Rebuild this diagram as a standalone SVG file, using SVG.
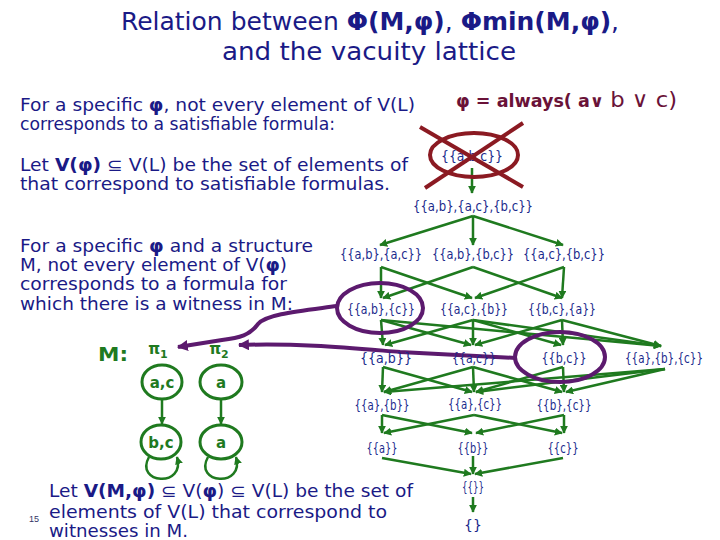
<svg xmlns="http://www.w3.org/2000/svg" width="720" height="540" viewBox="0 0 720 540">
<defs>
<style>
.t{font-family:"DejaVu Sans","Liberation Sans",sans-serif;fill:#1a1a86;}
.title{font-size:25px;}
.body{font-size:17px;}
.lab{font-family:"DejaVu Sans","Liberation Sans",sans-serif;font-size:14px;fill:#1a2a8c;text-anchor:middle;}
.phi{font-family:"DejaVu Sans","Liberation Sans",sans-serif;fill:#6a1238;font-size:17px;}
.ge{stroke:#1f7a1f;stroke-width:2.5;fill:none;marker-end:url(#ag);}
.st{stroke:#1f7a1f;stroke-width:3;fill:none;}
.stx{font-family:"DejaVu Sans","Liberation Sans",sans-serif;font-size:15px;font-weight:bold;fill:#1f7a1f;text-anchor:middle;}
.pu{stroke:#5c1a6e;stroke-width:4;fill:none;}
.x{stroke:#8b1a22;stroke-width:4;fill:none;}
</style>
<marker id="ag" viewBox="0 0 10 10" refX="9" refY="5" markerWidth="8" markerHeight="8" markerUnits="userSpaceOnUse" orient="auto"><path d="M0,0 L10,5 L0,10 z" fill="#1f7a1f"/></marker>
<marker id="ap" viewBox="0 0 10 10" refX="9" refY="5" markerWidth="11" markerHeight="11" markerUnits="userSpaceOnUse" orient="auto"><path d="M0,0 L10,5 L0,10 z" fill="#5c1a6e"/></marker>
</defs>
<rect width="720" height="540" fill="#ffffff"/>

<g id="title">
<text class="t title" x="370" y="30" text-anchor="middle" font-size="24">Relation between <tspan font-weight="bold">Φ(M,φ)</tspan>, <tspan font-weight="bold">Φmin(M,φ)</tspan>,</text>
<text class="t title" x="369" y="60" text-anchor="middle" textLength="294" lengthAdjust="spacingAndGlyphs">and the vacuity lattice</text>
</g>

<g id="text-left">
<text class="t body" x="20" y="111" textLength="395" lengthAdjust="spacingAndGlyphs">For a specific <tspan font-weight="bold">φ</tspan>, not every element of V(L)</text>
<text class="t body" x="20" y="130" textLength="315" lengthAdjust="spacingAndGlyphs">corresponds to a satisfiable formula:</text>
<text class="t body" x="20" y="171" textLength="388" lengthAdjust="spacingAndGlyphs">Let <tspan font-weight="bold">V(φ)</tspan> ⊆ V(L) be the set of elements of</text>
<text class="t body" x="20" y="190" textLength="370" lengthAdjust="spacingAndGlyphs">that correspond to satisfiable formulas.</text>
<text class="t body" x="20" y="252" textLength="293" lengthAdjust="spacingAndGlyphs">For a specific <tspan font-weight="bold">φ</tspan> and a structure</text>
<text class="t body" x="20" y="271" textLength="267" lengthAdjust="spacingAndGlyphs">M, not every element of V(<tspan font-weight="bold">φ</tspan>)</text>
<text class="t body" x="20" y="290" textLength="267" lengthAdjust="spacingAndGlyphs">corresponds to a formula for</text>
<text class="t body" x="20" y="310" textLength="273" lengthAdjust="spacingAndGlyphs">which there is a witness in M:</text>
<text class="t body" x="49" y="497" textLength="364" lengthAdjust="spacingAndGlyphs">Let <tspan font-weight="bold">V(M,φ)</tspan> ⊆ V(<tspan font-weight="bold">φ</tspan>) ⊆ V(L) be the set of</text>
<text class="t body" x="49" y="518" textLength="338" lengthAdjust="spacingAndGlyphs">elements of V(L) that correspond to</text>
<text class="t body" x="49" y="537" textLength="139" lengthAdjust="spacingAndGlyphs">witnesses in M.</text>
<text x="29" y="522" font-family="Liberation Sans, sans-serif" font-size="9" fill="#333366">15</text>
</g>

<g id="formula">
<text class="phi" x="456" y="107" textLength="221" lengthAdjust="spacingAndGlyphs"><tspan font-weight="bold">φ = always( a∨ </tspan><tspan font-size="22">b ∨ c)</tspan></text>
</g>

<g id="connectors">
<line class="ge" x1="472" y1="168" x2="472" y2="193"/>
<line class="ge" x1="473" y1="216" x2="380" y2="245"/>
<line class="ge" x1="473" y1="216" x2="473" y2="245"/>
<line class="ge" x1="473" y1="216" x2="563" y2="245"/>
<line class="ge" x1="381" y1="267" x2="381" y2="298"/>
<line class="ge" x1="381" y1="267" x2="472" y2="298"/>
<line class="ge" x1="473" y1="267" x2="383" y2="298"/>
<line class="ge" x1="473" y1="267" x2="562" y2="298"/>
<line class="ge" x1="564" y1="267" x2="562" y2="298"/>
<line class="ge" x1="564" y1="267" x2="475" y2="298"/>
<line class="ge" x1="381" y1="320" x2="383" y2="345"/>
<line class="ge" x1="381" y1="320" x2="471" y2="345"/>
<line class="ge" x1="381" y1="320" x2="661" y2="346"/>
<line class="ge" x1="473" y1="320" x2="385" y2="345"/>
<line class="ge" x1="473" y1="320" x2="473" y2="345"/>
<line class="ge" x1="473" y1="320" x2="561" y2="345"/>
<line class="ge" x1="473" y1="320" x2="661" y2="346"/>
<line class="ge" x1="562" y1="320" x2="475" y2="345"/>
<line class="ge" x1="562" y1="320" x2="563" y2="345"/>
<line class="ge" x1="562" y1="320" x2="661" y2="346"/>
<line class="ge" x1="383" y1="367" x2="382" y2="392"/>
<line class="ge" x1="383" y1="367" x2="472" y2="392"/>
<line class="ge" x1="473" y1="367" x2="384" y2="392"/>
<line class="ge" x1="473" y1="367" x2="474" y2="392"/>
<line class="ge" x1="473" y1="367" x2="562" y2="392"/>
<line class="ge" x1="563" y1="367" x2="476" y2="392"/>
<line class="ge" x1="563" y1="367" x2="564" y2="392"/>
<line class="ge" x1="665" y1="369" x2="384" y2="392"/>
<line class="ge" x1="665" y1="369" x2="476" y2="392"/>
<line class="ge" x1="665" y1="369" x2="566" y2="392"/>
<line class="ge" x1="382" y1="415" x2="382" y2="433"/>
<line class="ge" x1="382" y1="415" x2="472" y2="433"/>
<line class="ge" x1="474" y1="415" x2="384" y2="433"/>
<line class="ge" x1="474" y1="415" x2="562" y2="433"/>
<line class="ge" x1="564" y1="415" x2="564" y2="433"/>
<line class="ge" x1="564" y1="415" x2="476" y2="433"/>
<line class="ge" x1="382" y1="458" x2="471" y2="474"/>
<line class="ge" x1="473" y1="456" x2="473" y2="474"/>
<line class="ge" x1="563" y1="458" x2="475" y2="474"/>
<line class="ge" x1="473" y1="497" x2="473" y2="512"/>
<line class="ge" x1="162" y1="400" x2="162" y2="424"/>
<line class="ge" x1="221" y1="400" x2="221" y2="424"/>
<path class="ge" d="M149,457 C134,484 186,488 177,457"/>
<path class="ge" d="M208,457 C193,484 245,488 236,457"/>
<path class="pu" marker-end="url(#ap)" d="M337,306 C300,311 266,314 258,324 C250,335 240,338 222,340 L178,347"/>
<path class="pu" marker-end="url(#ap)" d="M516,358 L400,352 C350,348 300,343 239,345"/>
</g>

<g id="n-abc">
<ellipse class="x" cx="474" cy="155" rx="44" ry="22"/>
<text class="lab" x="472" y="161" textLength="62" lengthAdjust="spacingAndGlyphs">{{a,b,c}}</text>
<line class="x" x1="420" y1="127" x2="523" y2="187"/>
<line class="x" x1="523" y1="123" x2="425" y2="188"/>
</g>
<g id="n-ab-ac-bc"><text class="lab" x="473" y="211" textLength="120" lengthAdjust="spacingAndGlyphs">{{a,b},{a,c},{b,c}}</text></g>
<g id="n-ab-ac"><text class="lab" x="381" y="259" textLength="82" lengthAdjust="spacingAndGlyphs">{{a,b},{a,c}}</text></g>
<g id="n-ab-bc"><text class="lab" x="473" y="259" textLength="82" lengthAdjust="spacingAndGlyphs">{{a,b},{b,c}}</text></g>
<g id="n-ac-bc"><text class="lab" x="564" y="259" textLength="82" lengthAdjust="spacingAndGlyphs">{{a,c},{b,c}}</text></g>
<g id="n-ab-c">
<ellipse class="pu" cx="380" cy="308" rx="43" ry="25"/>
<text class="lab" x="381" y="314" textLength="68" lengthAdjust="spacingAndGlyphs">{{a,b},{c}}</text>
</g>
<g id="n-ac-b"><text class="lab" x="474" y="314" textLength="68" lengthAdjust="spacingAndGlyphs">{{a,c},{b}}</text></g>
<g id="n-bc-a"><text class="lab" x="562" y="314" textLength="68" lengthAdjust="spacingAndGlyphs">{{b,c},{a}}</text></g>
<g id="n-ab"><text class="lab" x="386" y="363" textLength="52" lengthAdjust="spacingAndGlyphs">{{a,b}}</text></g>
<g id="n-ac"><text class="lab" x="474" y="363" textLength="44" lengthAdjust="spacingAndGlyphs">{{a,c}}</text></g>
<g id="n-bc">
<ellipse class="pu" cx="560" cy="357" rx="45" ry="25"/>
<text class="lab" x="564" y="363" textLength="45" lengthAdjust="spacingAndGlyphs">{{b,c}}</text>
</g>
<g id="n-a-b-c"><text class="lab" x="664" y="363" font-size="12" textLength="78" lengthAdjust="spacingAndGlyphs">{{a},{b},{c}}</text></g>
<g id="n-a-b"><text class="lab" x="382" y="410" textLength="55" lengthAdjust="spacingAndGlyphs">{{a},{b}}</text></g>
<g id="n-a-c"><text class="lab" x="475" y="409" textLength="54" lengthAdjust="spacingAndGlyphs">{{a},{c}}</text></g>
<g id="n-b-c"><text class="lab" x="564" y="410" textLength="55" lengthAdjust="spacingAndGlyphs">{{b},{c}}</text></g>
<g id="n-a"><text class="lab" x="382" y="453" textLength="31" lengthAdjust="spacingAndGlyphs">{{a}}</text></g>
<g id="n-b"><text class="lab" x="473" y="453" textLength="31" lengthAdjust="spacingAndGlyphs">{{b}}</text></g>
<g id="n-c"><text class="lab" x="563" y="453" textLength="31" lengthAdjust="spacingAndGlyphs">{{c}}</text></g>
<g id="n-empty-set"><text class="lab" x="473" y="492" textLength="22" lengthAdjust="spacingAndGlyphs">{{}}</text></g>
<g id="n-empty"><text class="lab" x="473" y="530">{}</text></g>

<g id="structure-M">
<text x="98" y="361" font-family="DejaVu Sans, sans-serif" font-size="20" font-weight="bold" fill="#1f7a1f" textLength="30" lengthAdjust="spacingAndGlyphs">M:</text>
<text class="stx" x="158" y="354" font-size="18">π<tspan font-size="11" dy="4">1</tspan></text>
<text class="stx" x="219" y="354" font-size="18">π<tspan font-size="11" dy="4">2</tspan></text>
</g>
<g id="s-ac"><ellipse class="st" cx="162" cy="382" rx="20" ry="17"/><text class="stx" x="162" y="388">a,c</text></g>
<g id="s-a1"><ellipse class="st" cx="221" cy="382" rx="21" ry="17"/><text class="stx" x="221" y="388">a</text></g>
<g id="s-bc"><ellipse class="st" cx="161" cy="442" rx="20" ry="17"/><text class="stx" x="161" y="448">b,c</text></g>
<g id="s-a2"><ellipse class="st" cx="221" cy="442" rx="21" ry="17"/><text class="stx" x="221" y="448">a</text></g>
</svg>
